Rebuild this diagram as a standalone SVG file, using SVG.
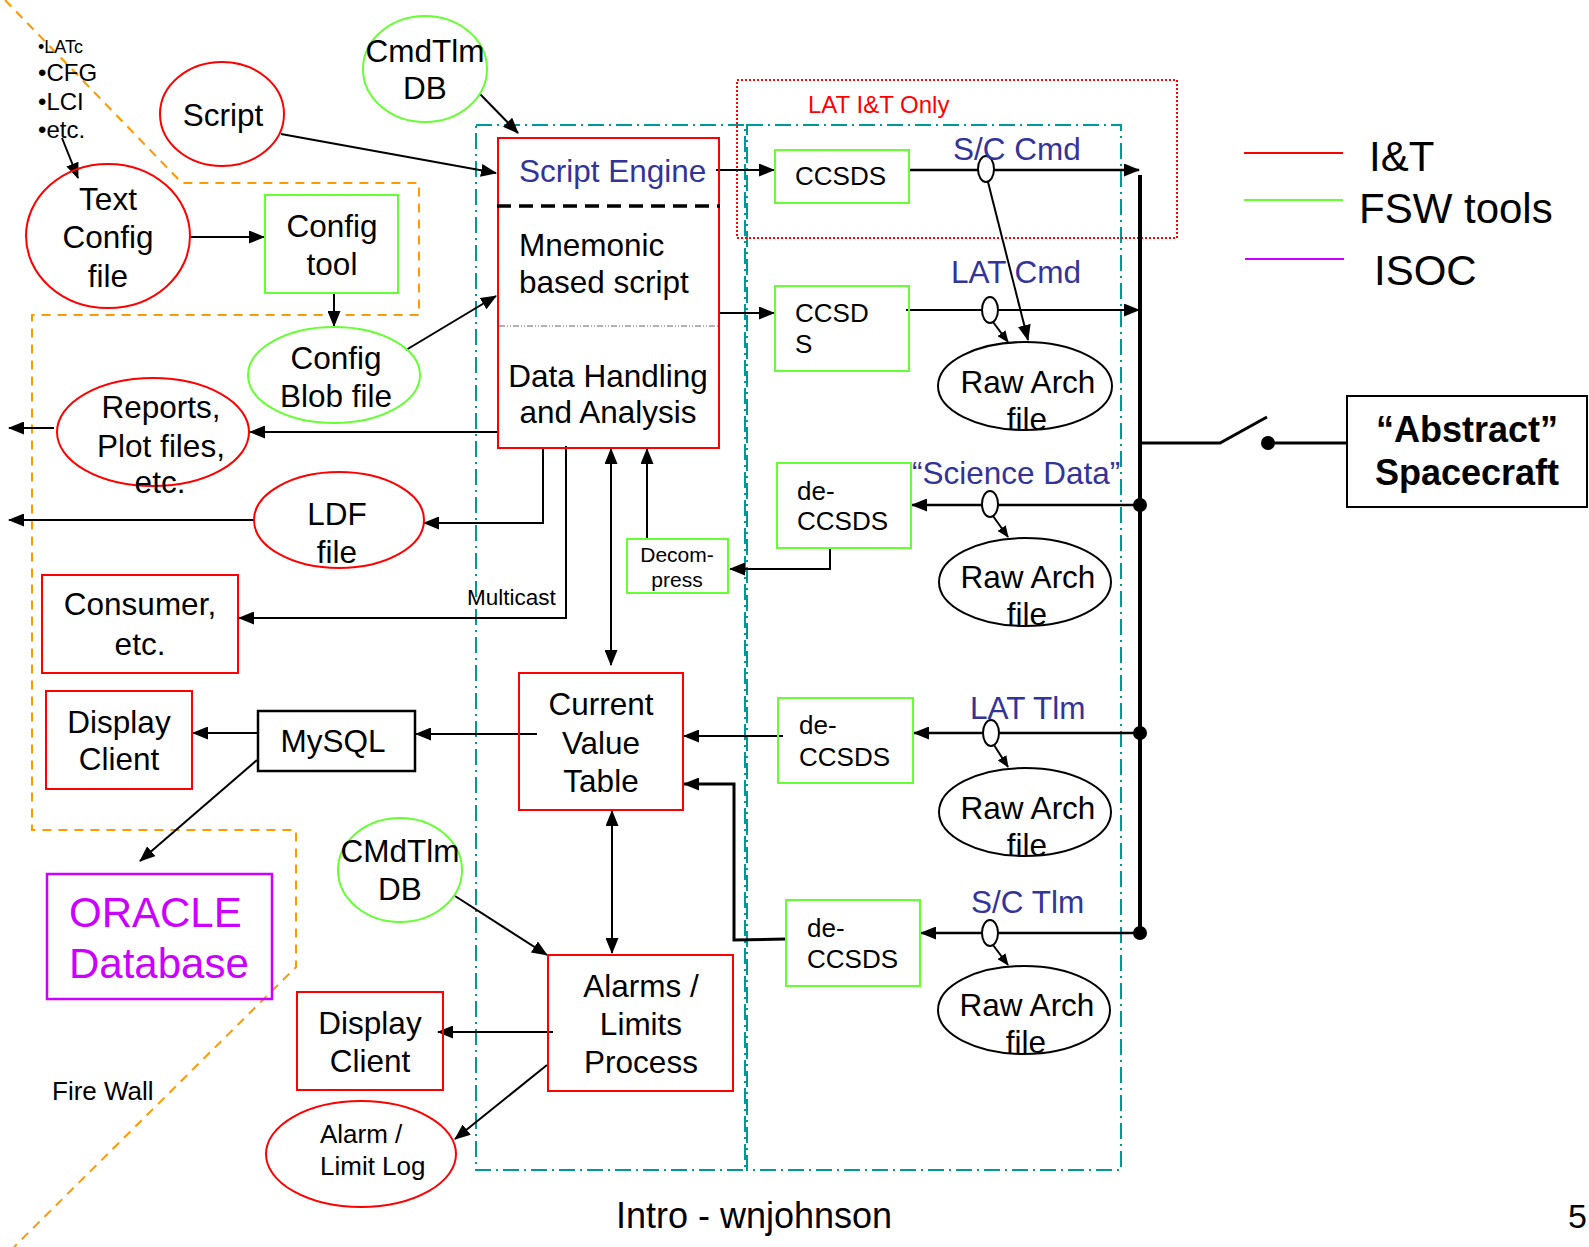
<svg xmlns="http://www.w3.org/2000/svg" width="1589" height="1247" viewBox="0 0 1589 1247">
<defs>
<marker id="ah" markerUnits="userSpaceOnUse" markerWidth="16" markerHeight="13" refX="15" refY="6.5" orient="auto-start-reverse"><path d="M0,0 L16,6.5 L0,13 z" fill="#000"/></marker>
<marker id="ahs" markerUnits="userSpaceOnUse" markerWidth="12" markerHeight="10" refX="11" refY="5" orient="auto"><path d="M0,0 L12,5 L0,10 z" fill="#000"/></marker>
<style>
text{font-family:"Liberation Sans",Arial,Helvetica,sans-serif;fill:#000}
.f31{font-size:31.5px}
.f26{font-size:26px}
.f24{font-size:24px}
.f21{font-size:21px}
.f18{font-size:18px}
.f42{font-size:42px}
.blue{fill:#333399}
.mid{text-anchor:middle}
.rbox{fill:none;stroke:#FF0000;stroke-width:2}
.gbox{fill:none;stroke:#66FF33;stroke-width:2}
.kbox{fill:none;stroke:#000;stroke-width:2.5}
.c{fill:none;stroke:#000;stroke-width:2}
.ca{fill:none;stroke:#000;stroke-width:2;marker-end:url(#ah)}
.cs{fill:none;stroke:#000;stroke-width:2;marker-end:url(#ahs)}
.orange{fill:none;stroke:#FF9900;stroke-width:2;stroke-dasharray:9 7}
.teal{fill:none;stroke:#009999;stroke-width:2;stroke-dasharray:16 5 2 5}
.small{fill:#fff;stroke:#000;stroke-width:2}
</style>
</defs>
<rect width="1589" height="1247" fill="#fff"/>

<!-- frames -->
<g id="frames">
<path class="orange" d="M5,0 L182,183 L419,183 L419,315 L32,315 L32,830 L296,830 L296,967 L14,1247"/>
<rect class="teal" x="476" y="125" width="269" height="1045"/>
<rect class="teal" x="747" y="125" width="374" height="1045"/>
<rect x="737" y="80" width="440" height="158" fill="none" stroke="#FF0000" stroke-width="2" stroke-dasharray="2 2"/>
<text x="808" y="113" class="f24" style="fill:#FF0000">LAT I&amp;T Only</text>
<text x="52" y="1100" class="f26">Fire Wall</text>
</g>

<!-- connectors -->
<g id="connectors">
<line class="ca" x1="62" y1="138" x2="78" y2="178"/>
<line class="ca" x1="281" y1="134" x2="496" y2="173"/>
<line class="ca" x1="480" y1="94" x2="518" y2="133"/>
<line class="ca" x1="190" y1="237" x2="264" y2="237"/>
<line class="ca" x1="334" y1="293" x2="334" y2="326"/>
<line class="ca" x1="406" y1="350" x2="496" y2="296"/>
<line class="ca" x1="716" y1="170" x2="774" y2="170"/>
<line class="ca" x1="719" y1="313" x2="774" y2="313"/>
<line class="ca" x1="909" y1="170" x2="1139" y2="170" style="stroke-width:2.5"/>
<line class="ca" x1="906" y1="310" x2="1139" y2="310"/>
<line class="ca" x1="498" y1="432" x2="250" y2="432"/>
<line class="ca" x1="54" y1="428" x2="9" y2="428"/>
<polyline class="ca" points="543,448 543,523 424,523"/>
<line class="ca" x1="254" y1="520" x2="9" y2="520"/>
<polyline class="ca" points="566,446 566,618 239,618"/>
<text x="467" y="605" style="font-size:22.5px">Multicast</text>
<polyline class="ca" points="830,548 830,569 730,569"/>
<line class="ca" x1="647" y1="539" x2="647" y2="449"/>
<line class="ca" x1="611" y1="449" x2="611" y2="665" style="marker-start:url(#ah)"/>
<line class="ca" x1="1140" y1="505" x2="912" y2="505" style="stroke-width:2.5"/>
<line class="ca" x1="1140" y1="733" x2="914" y2="733" style="stroke-width:2.5"/>
<line class="ca" x1="1140" y1="933" x2="921" y2="933" style="stroke-width:2.5"/>
<line class="ca" x1="783" y1="736" x2="684" y2="736"/>
<polyline class="ca" points="786,939 734,940 734,784 684,784" style="stroke-width:3"/>
<line class="ca" x1="612" y1="811" x2="612" y2="953" style="marker-start:url(#ah)"/>
<line class="ca" x1="537" y1="734" x2="416" y2="734"/>
<line class="ca" x1="258" y1="733" x2="193" y2="733"/>
<line class="ca" x1="257" y1="760" x2="140" y2="861"/>
<line class="ca" x1="455" y1="896" x2="547" y2="955"/>
<line class="ca" x1="553" y1="1032" x2="438" y2="1032"/>
<line class="ca" x1="547" y1="1065" x2="455" y2="1139"/>
<!-- small taps -->
<line class="ca" x1="988" y1="182" x2="1028" y2="340"/>
<ellipse class="small" cx="986" cy="169" rx="8" ry="13"/>
<line class="cs" x1="993" y1="322" x2="1008" y2="342"/>
<ellipse class="small" cx="990" cy="310" rx="8" ry="13"/>
<line class="cs" x1="993" y1="516" x2="1008" y2="537"/>
<ellipse class="small" cx="990" cy="504" rx="8" ry="13"/>
<line class="cs" x1="994" y1="745" x2="1008" y2="767"/>
<ellipse class="small" cx="991" cy="733" rx="8" ry="13"/>
<line class="cs" x1="993" y1="945" x2="1008" y2="965"/>
<ellipse class="small" cx="990" cy="933" rx="8" ry="13"/>
<!-- bus & switch -->
<line x1="1140" y1="175" x2="1140" y2="933" stroke="#000" stroke-width="4"/>
<circle cx="1140" cy="505" r="7"/>
<circle cx="1140" cy="733" r="7"/>
<circle cx="1140" cy="933" r="7"/>
<polyline class="c" points="1140,443 1220,443 1267,417" style="stroke-width:3"/>
<circle cx="1268" cy="443" r="7"/>
<line x1="1268" y1="443" x2="1347" y2="443" stroke="#000" stroke-width="3"/>
<!-- labels -->
<text x="953" y="160" class="f31 blue">S/C Cmd</text>
<text x="951" y="283" class="f31 blue">LAT Cmd</text>
<text x="912" y="484" class="f31 blue">“Science Data”</text>
<text x="970" y="719" class="f31 blue">LAT Tlm</text>
<text x="971" y="913" class="f31 blue">S/C Tlm</text>
</g>

<!-- nodes -->
<g id="n-list">
<text x="38" y="53" class="f18">•LATc</text>
<text x="38" y="81" class="f24">•CFG</text>
<text x="38" y="110" class="f24">•LCI</text>
<text x="38" y="138" class="f24">•etc.</text>
</g>
<g id="n-textconfig">
<ellipse cx="108" cy="236" rx="82" ry="72" fill="none" stroke="#FF0000" stroke-width="2"/>
<text x="108" y="210" class="f31 mid">Text</text>
<text x="108" y="248" class="f31 mid">Config</text>
<text x="108" y="287" class="f31 mid">file</text>
</g>
<g id="n-script">
<ellipse cx="222" cy="114" rx="62" ry="52" fill="none" stroke="#FF0000" stroke-width="2"/>
<text x="223" y="126" class="f31 mid">Script</text>
</g>
<g id="n-cmdtlm1">
<ellipse cx="425" cy="69" rx="62" ry="53" fill="none" stroke="#66FF33" stroke-width="2"/>
<text x="425" y="62" class="f31 mid">CmdTlm</text>
<text x="425" y="99" class="f31 mid">DB</text>
</g>
<g id="n-configtool">
<rect class="gbox" x="265" y="195" width="133" height="98"/>
<text x="332" y="237" class="f31 mid">Config</text>
<text x="332" y="275" class="f31 mid">tool</text>
</g>
<g id="n-configblob">
<ellipse cx="334" cy="375" rx="86" ry="48" fill="none" stroke="#66FF33" stroke-width="2"/>
<text x="336" y="369" class="f31 mid">Config</text>
<text x="336" y="407" class="f31 mid">Blob file</text>
</g>
<g id="n-scriptengine">
<rect class="rbox" x="498" y="138" width="221" height="310"/>
<text x="519" y="182" class="f31 blue">Script Engine</text>
<line x1="497" y1="206" x2="720" y2="206" stroke="#000" stroke-width="3.5" stroke-dasharray="14 8"/>
<text x="519" y="256" class="f31">Mnemonic</text>
<text x="519" y="293" class="f31">based script</text>
<line x1="499" y1="326" x2="718" y2="326" stroke="#999" stroke-width="1.5" stroke-dasharray="6 2 1 2 1 2"/>
<text x="608" y="387" class="f31 mid">Data Handling</text>
<text x="608" y="423" class="f31 mid">and Analysis</text>
</g>
<g id="n-ccsds1">
<rect class="gbox" x="775" y="150" width="134" height="53"/>
<text x="795" y="185" class="f26">CCSDS</text>
</g>
<g id="n-ccsds2">
<rect class="gbox" x="775" y="286" width="134" height="85"/>
<text x="795" y="322" class="f26">CCSD</text>
<text x="795" y="353" class="f26">S</text>
</g>
<g id="n-raw1">
<ellipse cx="1025" cy="386" rx="87" ry="44" fill="none" stroke="#000" stroke-width="2"/>
<text x="1028" y="393" class="f31 mid">Raw Arch</text>
<text x="1027" y="430" class="f31 mid">file</text>
</g>
<g id="n-reports">
<ellipse cx="153" cy="432" rx="96" ry="54" fill="none" stroke="#FF0000" stroke-width="2"/>
<text x="161" y="418" class="f31 mid">Reports,</text>
<text x="161" y="457" class="f31 mid">Plot files,</text>
<text x="160" y="493" class="f31 mid">etc.</text>
</g>
<g id="n-ldf">
<ellipse cx="339" cy="520" rx="85" ry="48" fill="none" stroke="#FF0000" stroke-width="2"/>
<text x="337" y="525" class="f31 mid">LDF</text>
<text x="337" y="563" class="f31 mid">file</text>
</g>
<g id="n-consumer">
<rect class="rbox" x="42" y="575" width="196" height="98"/>
<text x="140" y="615" class="f31 mid">Consumer,</text>
<text x="140" y="655" class="f31 mid">etc.</text>
</g>
<g id="n-decompress">
<rect class="gbox" x="627" y="539" width="101" height="54"/>
<text x="677" y="562" class="f21 mid">Decom-</text>
<text x="677" y="587" class="f21 mid">press</text>
</g>
<g id="n-deccsds-sci">
<rect class="gbox" x="777" y="463" width="134" height="85"/>
<text x="797" y="500" class="f26">de-</text>
<text x="797" y="530" class="f26">CCSDS</text>
</g>
<g id="n-raw2">
<ellipse cx="1025" cy="582" rx="86" ry="44" fill="none" stroke="#000" stroke-width="2"/>
<text x="1028" y="588" class="f31 mid">Raw Arch</text>
<text x="1027" y="625" class="f31 mid">file</text>
</g>
<g id="n-cvt">
<rect class="rbox" x="519" y="673" width="164" height="137"/>
<text x="601" y="715" class="f31 mid">Current</text>
<text x="601" y="754" class="f31 mid">Value</text>
<text x="601" y="792" class="f31 mid">Table</text>
</g>
<g id="n-deccsds-lat">
<rect class="gbox" x="778" y="698" width="135" height="85"/>
<text x="799" y="734" class="f26">de-</text>
<text x="799" y="766" class="f26">CCSDS</text>
</g>
<g id="n-raw3">
<ellipse cx="1025" cy="812" rx="86" ry="44" fill="none" stroke="#000" stroke-width="2"/>
<text x="1028" y="819" class="f31 mid">Raw Arch</text>
<text x="1027" y="856" class="f31 mid">file</text>
</g>
<g id="n-deccsds-sc">
<rect class="gbox" x="786" y="900" width="134" height="86"/>
<text x="807" y="937" class="f26">de-</text>
<text x="807" y="968" class="f26">CCSDS</text>
</g>
<g id="n-raw4">
<ellipse cx="1024" cy="1010" rx="86" ry="44" fill="none" stroke="#000" stroke-width="2"/>
<text x="1027" y="1016" class="f31 mid">Raw Arch</text>
<text x="1026" y="1053" class="f31 mid">file</text>
</g>
<g id="n-mysql">
<rect class="kbox" x="258" y="711" width="157" height="60"/>
<text x="333" y="752" class="f31 mid">MySQL</text>
</g>
<g id="n-display1">
<rect class="rbox" x="46" y="691" width="146" height="98"/>
<text x="119" y="733" class="f31 mid">Display</text>
<text x="119" y="770" class="f31 mid">Client</text>
</g>
<g id="n-oracle">
<rect x="47" y="874" width="225" height="125" fill="none" stroke="#CC00FF" stroke-width="2.5"/>
<text x="69" y="927" class="f42" style="fill:#CC00FF">ORACLE</text>
<text x="69" y="978" class="f42" style="fill:#CC00FF">Database</text>
</g>
<g id="n-cmdtlm2">
<ellipse cx="400" cy="870" rx="62" ry="52" fill="none" stroke="#66FF33" stroke-width="2"/>
<text x="400" y="862" class="f31 mid">CMdTlm</text>
<text x="400" y="900" class="f31 mid">DB</text>
</g>
<g id="n-alarms">
<rect class="rbox" x="548" y="955" width="185" height="136"/>
<text x="641" y="997" class="f31 mid">Alarms /</text>
<text x="641" y="1035" class="f31 mid">Limits</text>
<text x="641" y="1073" class="f31 mid">Process</text>
</g>
<g id="n-display2">
<rect class="rbox" x="297" y="992" width="146" height="98"/>
<text x="370" y="1034" class="f31 mid">Display</text>
<text x="370" y="1072" class="f31 mid">Client</text>
</g>
<g id="n-alarmlog">
<ellipse cx="361" cy="1154" rx="95" ry="53" fill="none" stroke="#FF0000" stroke-width="2"/>
<text x="320" y="1143" class="f26">Alarm /</text>
<text x="320" y="1175" class="f26">Limit Log</text>
</g>
<g id="n-spacecraft">
<rect x="1347" y="396" width="240" height="111" fill="none" stroke="#000" stroke-width="2"/>
<text x="1467" y="442" class="mid" style="font-size:36px;font-weight:bold">“Abstract”</text>
<text x="1467" y="485" class="mid" style="font-size:36px;font-weight:bold">Spacecraft</text>
</g>
<g id="legend">
<line x1="1244" y1="153" x2="1343" y2="153" stroke="#FF0000" stroke-width="2"/>
<text x="1369" y="171" class="f42">I&amp;T</text>
<line x1="1244" y1="200" x2="1343" y2="200" stroke="#66FF33" stroke-width="2"/>
<text x="1359" y="223" class="f42">FSW tools</text>
<line x1="1245" y1="259" x2="1344" y2="259" stroke="#CC00FF" stroke-width="2"/>
<text x="1374" y="285" class="f42">ISOC</text>
</g>
<g id="footer">
<text x="754" y="1228" class="mid" style="font-size:36px">Intro - wnjohnson</text>
<text x="1568" y="1228" style="font-size:34px">5</text>
</g>
</svg>
